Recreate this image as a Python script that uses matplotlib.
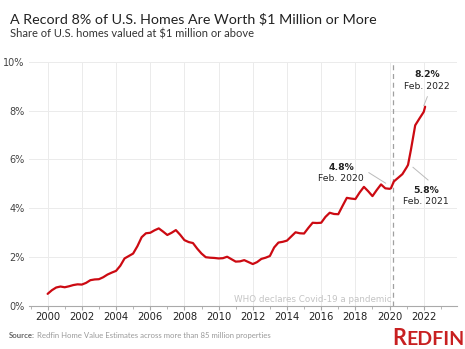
import matplotlib.pyplot as plt
import matplotlib.ticker as mticker

# share of U.S. homes valued at $1M+ (decimal years)
years = [2000.00, 2000.25, 2000.50, 2000.75, 2001.00, 2001.25, 2001.50, 2001.75,
         2002.00, 2002.25, 2002.50, 2002.75, 2003.00, 2003.25, 2003.50, 2003.75,
         2004.00, 2004.25, 2004.50, 2004.75, 2005.00, 2005.25, 2005.50, 2005.75,
         2006.00, 2006.25, 2006.50, 2006.75, 2007.00, 2007.25, 2007.50, 2007.75,
         2008.00, 2008.25, 2008.50, 2008.75, 2009.00, 2009.25, 2009.50, 2009.75,
         2010.00, 2010.25, 2010.50, 2010.75, 2011.00, 2011.25, 2011.50, 2011.75,
         2012.00, 2012.25, 2012.50, 2012.75, 2013.00, 2013.25, 2013.50, 2013.75,
         2014.00, 2014.25, 2014.50, 2014.75, 2015.00, 2015.25, 2015.50, 2015.75,
         2016.00, 2016.25, 2016.50, 2016.75, 2017.00, 2017.25, 2017.50, 2017.75,
         2018.00, 2018.25, 2018.50, 2018.75, 2019.00, 2019.25, 2019.50, 2019.75,
         2020.00, 2020.08, 2020.25, 2020.50, 2020.75, 2021.00, 2021.08, 2021.25,
         2021.50, 2021.75, 2022.00, 2022.08]
share = [0.50, 0.65, 0.76, 0.80, 0.77, 0.81, 0.86, 0.89,
         0.88, 0.95, 1.06, 1.09, 1.10, 1.18, 1.29, 1.37,
         1.44, 1.65, 1.95, 2.05, 2.15, 2.45, 2.82, 2.98,
         3.00, 3.10, 3.18, 3.05, 2.91, 3.00, 3.11, 2.92,
         2.70, 2.62, 2.58, 2.35, 2.15, 2.00, 1.98, 1.97,
         1.95, 1.96, 2.02, 1.92, 1.82, 1.83, 1.88, 1.80,
         1.72, 1.80, 1.93, 1.98, 2.05, 2.40, 2.60, 2.63,
         2.68, 2.85, 3.02, 2.98, 2.97, 3.20, 3.41, 3.40,
         3.41, 3.65, 3.82, 3.77, 3.76, 4.10, 4.43, 4.40,
         4.38, 4.65, 4.88, 4.70, 4.50, 4.75, 4.98, 4.82,
         4.80, 4.82, 5.10, 5.25, 5.40, 5.68, 5.78, 6.40,
         7.40, 7.68, 7.95, 8.16]

covid_x = 2020.2
# (value label, date label, text x, text y, leader line from, leader line to)
callouts = [
    ("8.2%", "Feb. 2022", 2022.21, 9.23, (2022.21, 8.57), (2022.0, 8.2)),
    ("4.8%", "Feb. 2020", 2017.18, 5.45, (2018.79, 5.46), (2019.77, 5.03)),
    ("5.8%", "Feb. 2021", 2022.15, 4.51, (2021.37, 5.68), (2022.25, 5.16)),
]

red = "#CC0A12"
fig = plt.figure(figsize=(4.65, 3.49), dpi=100)
ax = fig.add_axes([0.062, 0.123, 0.921, 0.700])

ax.plot(years, share, color=red, lw=1.6, solid_joinstyle="round", solid_capstyle="round", zorder=3)
ax.axvline(covid_x, color="#A0A0A0", lw=0.9, ls=(0, (4, 3)), zorder=2)
ax.text(covid_x - 0.1, 0.25, "WHO declares Covid\u201119 a pandemic", ha="right", va="center",
        fontsize=6.3, color="#C4C4C4")

for val, date, tx, ty, p0, p1 in callouts:
    ax.text(tx, ty + 0.23, val, ha="center", va="center", fontsize=6.7, fontweight="bold", color="#222222")
    ax.text(tx, ty - 0.23, date, ha="center", va="center", fontsize=6.7, color="#222222")
    ax.plot([p0[0], p1[0]], [p0[1], p1[1]], color="#BBBBBB", lw=0.7)

ax.set_xlim(1998.9, 2023.95)
ax.set_ylim(0, 10)
ax.set_xticks(range(2000, 2023, 2))
ax.xaxis.set_minor_locator(mticker.MultipleLocator(1))
ax.set_yticks(range(0, 11, 2))
ax.yaxis.set_major_formatter(mticker.FuncFormatter(lambda v, p: f"{v:.0f}%"))
ax.grid(True, color="#EBEBEB", lw=0.7)
ax.set_axisbelow(True)
for s in ["top", "right", "left"]:
    ax.spines[s].set_visible(False)
ax.spines["bottom"].set_color("#AAAAAA")
ax.tick_params(axis="x", which="major", length=3, color="#AAAAAA", labelsize=7.2, labelcolor="#222222", pad=1.5)
ax.tick_params(axis="x", which="minor", length=2, color="#AAAAAA")
ax.tick_params(axis="y", length=0, labelsize=7, labelcolor="#444444", pad=3)

fig.text(0.021, 0.945, "A Record 8% of U.S. Homes Are Worth $1 Million or More", fontsize=10.3,
         color="#222222", va="center", family="Lato")
fig.text(0.021, 0.902, "Share of U.S. homes valued at $1 million or above", fontsize=8,
         color="#333333", va="center", family="Lato")
fig.text(0.019, 0.04, "Source:", fontsize=5.6, fontweight="bold", color="#666666", va="center", family="Lato")
fig.text(0.079, 0.04, "Redfin Home Value Estimates across more than 85 million properties", fontsize=5.6,
         color="#999999", va="center", family="Lato")

# logo: slightly taller R followed by caps
fig.canvas.draw()
r = fig.canvas.get_renderer()
tail = fig.text(0.999, 0.012, "EDFIN", fontsize=14, fontweight="bold", color="#C82021", ha="right",
                va="baseline", family="Lato")
bb = tail.get_window_extent(renderer=r)
fig.text(bb.x0 / fig.bbox.width, 0.012, "R", fontsize=15.5, fontweight="bold", color="#C82021", ha="right",
         va="baseline", family="Lato")

fig.savefig("out.png", dpi=100)
